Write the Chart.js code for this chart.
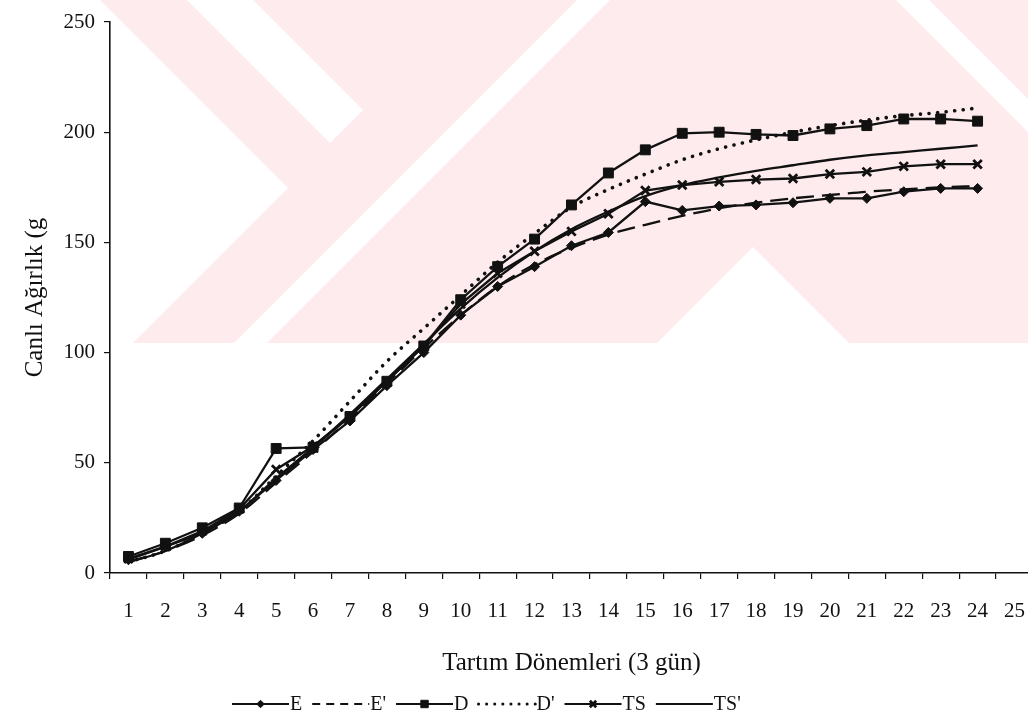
<!DOCTYPE html>
<html>
<head>
<meta charset="utf-8">
<script src="https://cdn.jsdelivr.net/npm/chart.js@4.4.1/dist/chart.umd.min.js"></script>
<style>
  html, body { margin: 0; padding: 0; background: #ffffff; overflow: hidden; width: 1028px; height: 721px; }
  #wrap { position: absolute; left: 0; top: 0; width: 1045px; height: 721px; }
  canvas { display: block; }
</style>
</head>
<body>
<div id="wrap"><canvas id="c" width="1045" height="721"></canvas></div>
<script>
// ---- data ----
const categories = ['1','2','3','4','5','6','7','8','9','10','11','12','13','14','15','16','17','18','19','20','21','22','23','24','25'];
const yTicks = [0, 50, 100, 150, 200, 250];

const seriesE   = [6, 12, 18, 28, 42, 56, 69, 85, 100, 117, 130, 139, 148.5, 154.5, 168.5, 164.5, 166.5, 167, 168, 170, 170, 173, 174.5, 174.5];
const seriesE2  = [5, 10, 17, 27, 41, 55, 70, 86, 102, 117, 130, 140, 147.5, 153.5, 158, 162, 165.5, 168, 170, 171.5, 173, 174, 175, 175.5];
const seriesD   = [7.5, 13.5, 20.5, 29.5, 56.5, 57, 71, 87, 103, 124, 139, 151.5, 167, 181.5, 192, 199.5, 200, 199, 198.5, 201.5, 203, 206, 206, 205];
const seriesD2  = [5, 10, 18, 28, 44, 60, 78, 96, 111, 126, 141, 154, 166, 174, 181, 187.5, 192.5, 196.5, 200, 203, 205.5, 207.5, 209, 211];
const seriesTS  = [6.5, 12, 19, 29, 47, 57.5, 71, 87, 103, 122, 136, 146, 155, 163, 173.5, 176, 177.5, 178.5, 179, 181, 182, 184.5, 185.5, 185.5];
const seriesTS2 = [5, 10, 18, 28, 43, 57, 72, 88, 104, 120, 134, 146, 156, 164, 171, 176, 179.5, 182.5, 185, 187.5, 189.5, 191, 192.5, 194];

const seriesNames = ['E', "E'", 'D', "D'", 'TS', "TS'"];

const INK = '#111111';
const SERIF = "'Liberation Serif', 'Times New Roman', serif";

function ds(label, data, extra) {
  return Object.assign({
    label: label,
    data: data,
    borderColor: INK,
    backgroundColor: INK,
    borderWidth: 2.3,
    pointRadius: 0,
    pointHoverRadius: 0,
    pointBackgroundColor: INK,
    pointBorderColor: INK,
    pointBorderWidth: 1,
    tension: 0,
    fill: false
  }, extra);
}

const datasets = [
  ds(seriesNames[0], seriesE,  { pointStyle: 'rectRot', pointRadius: 5 }),
  ds(seriesNames[1], seriesE2, { borderDash: [18, 8], legendDash: [8, 6], cubicInterpolationMode: 'monotone' }),
  ds(seriesNames[2], seriesD,  { pointStyle: 'rect', pointRadius: 7 }),
  ds(seriesNames[3], seriesD2, { borderDash: [0.1, 8.5], borderCapStyle: 'round', borderWidth: 3.6, legendDash: [0.1, 8], cubicInterpolationMode: 'monotone' }),
  ds(seriesNames[4], seriesTS, { pointStyle: 'crossRot', pointRadius: 6, pointBorderWidth: 2.8 }),
  ds(seriesNames[5], seriesTS2,{ cubicInterpolationMode: 'monotone' })
];

// light pink background emblem (decoration only, not data)
const watermark = {
  id: 'watermark',
  beforeDraw(chart) {
    const ctx = chart.ctx;
    ctx.save();
    ctx.beginPath();
    ctx.rect(100, 0, 950, 343);
    ctx.clip();
    ctx.fillStyle = '#fdebee';
    ctx.fillRect(100, 0, 950, 343);
    ctx.fillStyle = '#ffffff';
    const polys = [
      [[0,0],[100,0],[288,188],[133,343],[0,343]],
      [[187,0],[253,0],[363,110],[330,143]],
      [[577,0],[610,0],[267,343],[234,343]],
      [[753,247],[849,343],[657,343]],
      [[896,0],[929,0],[1272,343],[1239,343]]
    ];
    polys.forEach(p => {
      ctx.beginPath();
      ctx.moveTo(p[0][0], p[0][1]);
      for (let i = 1; i < p.length; i++) ctx.lineTo(p[i][0], p[i][1]);
      ctx.closePath();
      ctx.fill();
    });
    ctx.restore();
  }
};

// legend drawn from dataset styles
const lineLegend = {
  id: 'lineLegend',
  afterDraw(chart) {
    const ctx = chart.ctx;
    const y = 704;
    let x = 232;
    const lineLen = 57;
    ctx.save();
    ctx.font = '20px ' + SERIF;
    ctx.textBaseline = 'middle';
    ctx.textAlign = 'left';
    chart.data.datasets.forEach(d => {
      ctx.strokeStyle = d.borderColor;
      ctx.fillStyle = d.borderColor;
      ctx.lineWidth = d.borderCapStyle === 'round' ? 3 : 1.8;
      ctx.lineCap = d.borderCapStyle || 'butt';
      ctx.setLineDash(d.legendDash || []);
      ctx.beginPath();
      ctx.moveTo(x, y);
      ctx.lineTo(x + lineLen, y);
      ctx.stroke();
      ctx.setLineDash([]);
      if (d.pointRadius > 0) {
        const opts = { pointStyle: d.pointStyle, radius: d.pointRadius * 0.75, rotation: 0, borderWidth: d.pointBorderWidth };
        ctx.lineWidth = d.pointBorderWidth;
        Chart.helpers.drawPoint(ctx, opts, x + lineLen / 2, y);
      }
      ctx.fillStyle = INK;
      ctx.fillText(d.label, x + lineLen + 1, y + 1);
      x += lineLen + 1 + ctx.measureText(d.label).width + 10;
    });
    ctx.restore();
  }
};

new Chart(document.getElementById('c'), {
  type: 'line',
  data: { labels: categories, datasets: datasets },
  options: {
    responsive: false,
    animation: false,
    events: [],
    layout: { autoPadding: false, padding: { top: 22, right: 0, bottom: 0, left: 0 } },
    plugins: {
      legend: { display: false },
      tooltip: { enabled: false },
      title: { display: false }
    },
    scales: {
      x: {
        type: 'category',
        offset: true,
        grid: { display: true, offset: true, drawOnChartArea: false, drawTicks: true, tickLength: 6, color: INK, lineWidth: 1.2 },
        border: { display: true, color: INK, width: 1.6 },
        ticks: { color: INK, font: { family: SERIF, size: 21 }, padding: 20, maxRotation: 0, autoSkip: false },
        title: { display: true, text: 'Tartım Dönemleri (3 gün)', color: INK, font: { family: SERIF, size: 25 }, padding: { top: 0, bottom: 43 } },
        afterFit(s) { s.height = 148; }
      },
      y: {
        min: 0,
        max: 250,
        afterBuildTicks(s) { s.ticks = yTicks.map(v => ({ value: v })); },
        grid: { display: true, drawOnChartArea: false, drawTicks: true, tickLength: 6, color: INK, lineWidth: 1.2 },
        border: { display: true, color: INK, width: 1.6 },
        ticks: { color: INK, font: { family: SERIF, size: 21 }, padding: 9 },
        title: { display: true, text: 'Canlı Ağırlık (g', color: INK, font: { family: SERIF, size: 25 }, padding: { top: 20, bottom: 0 } },
        afterFit(s) { s.width = 110; }
      }
    }
  },
  plugins: [watermark, lineLegend]
});
</script>
</body>
</html>
